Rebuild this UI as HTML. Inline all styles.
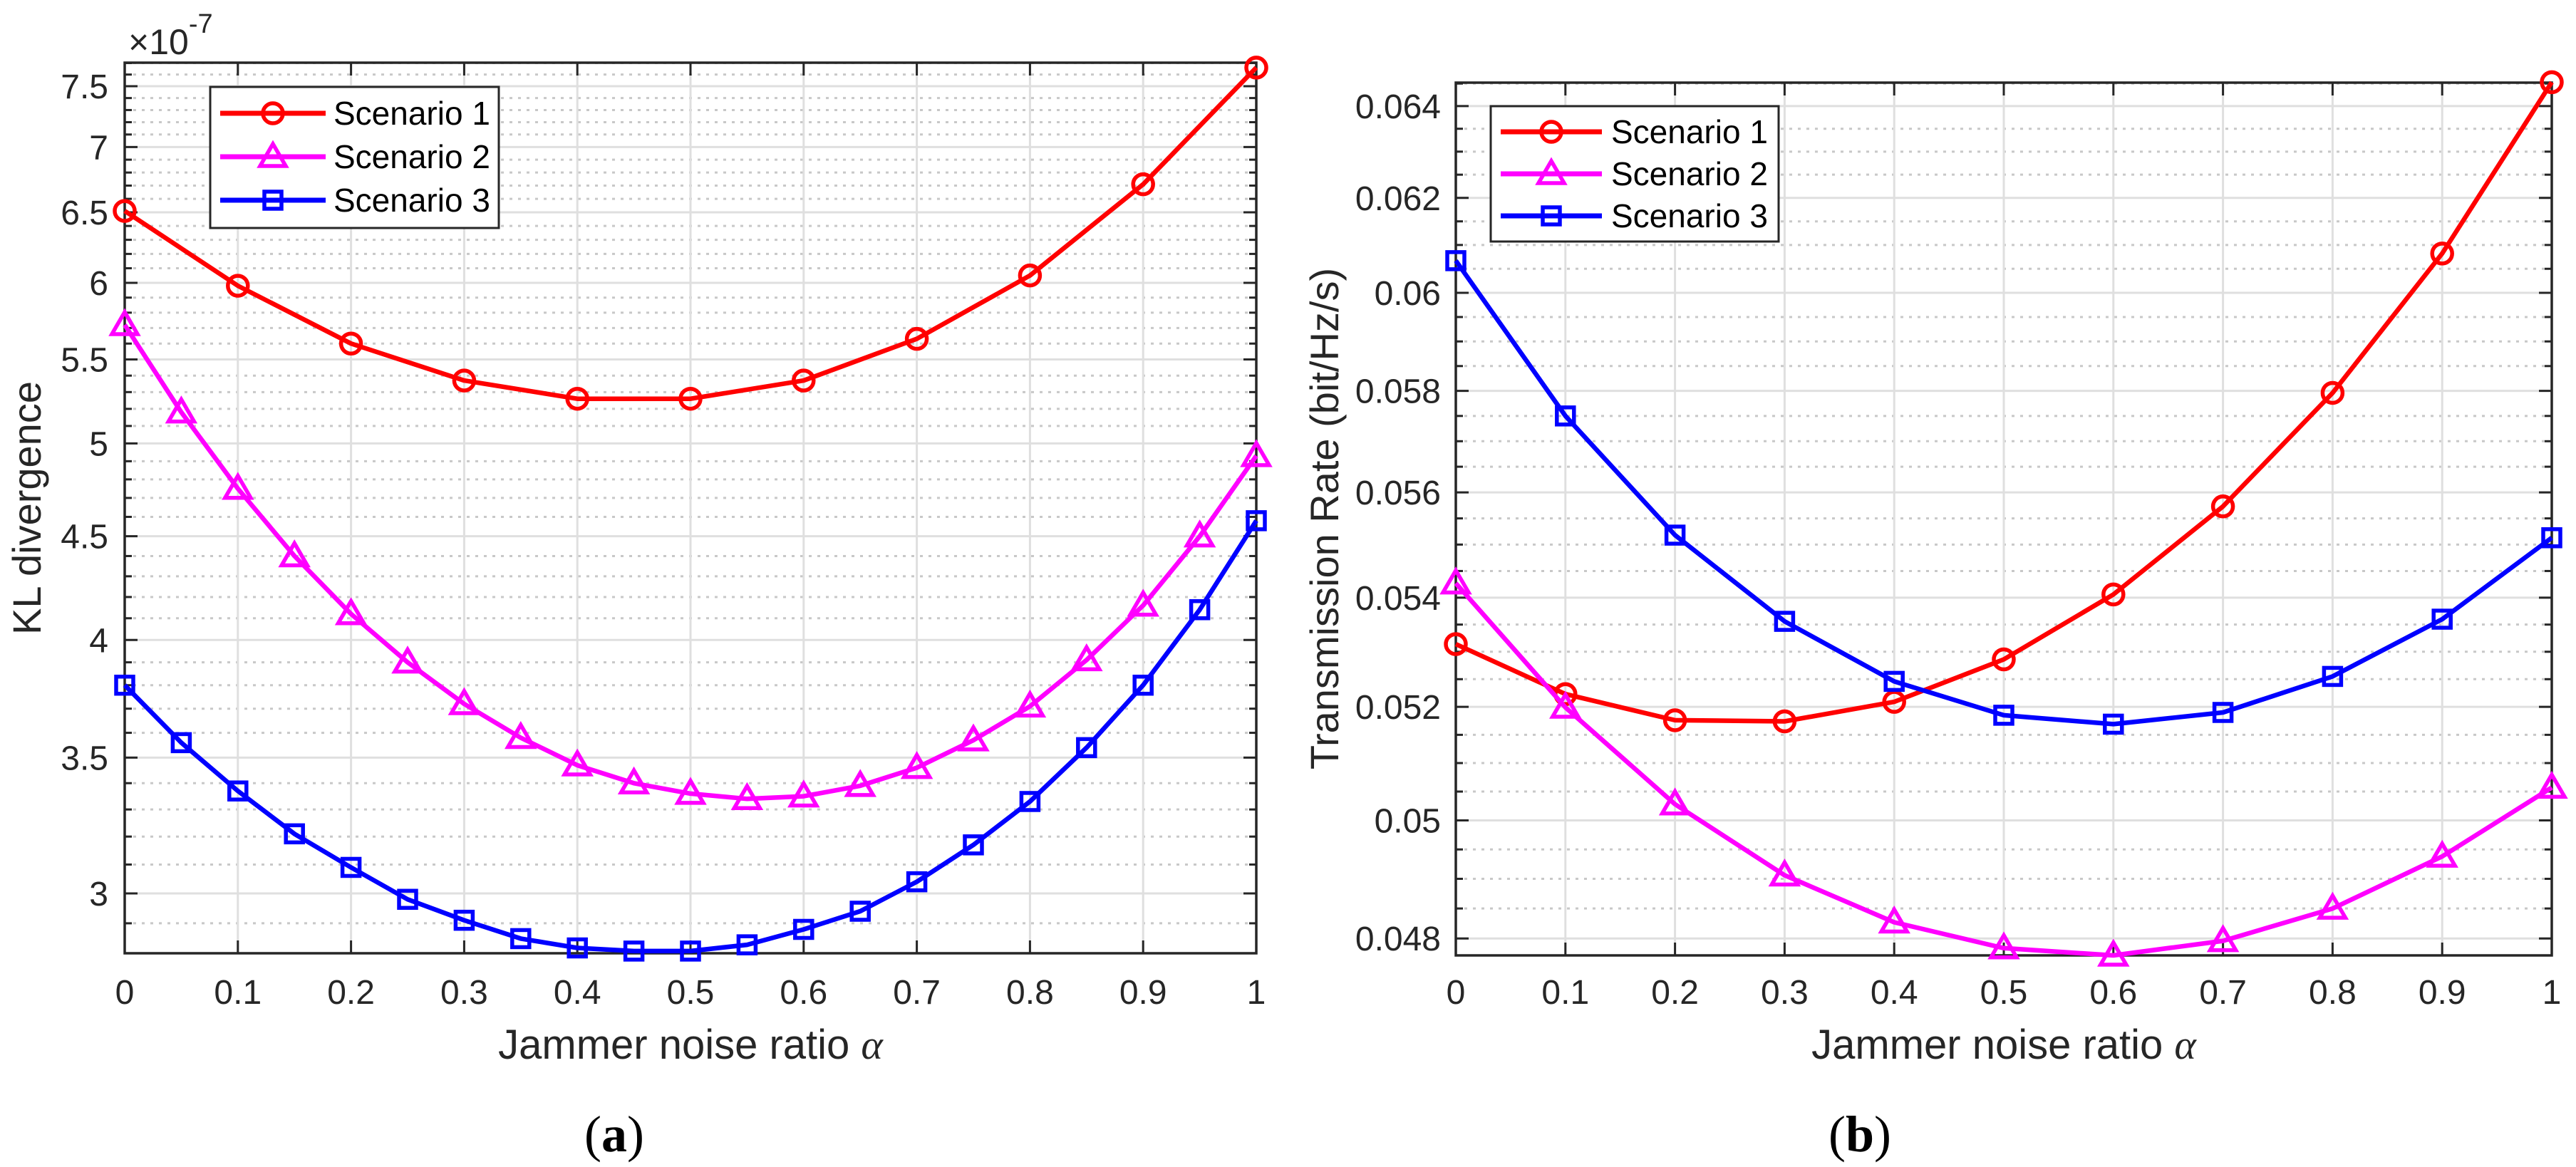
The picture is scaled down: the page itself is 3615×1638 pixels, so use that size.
<!DOCTYPE html>
<html><head><meta charset="utf-8">
<style>
html,body{margin:0;padding:0;background:#fff;}
svg{display:block;}
text{font-family:"Liberation Sans",sans-serif;fill:#262626;}
</style></head>
<body>
<svg id="fig" xmlns="http://www.w3.org/2000/svg" width="3615" height="1638" viewBox="0 0 3615 1638">
<rect width="3615" height="1638" fill="#fff"/>
<g id="chartA"></g>
<g id="chartB"></g>
</svg>
<script>
// ---- shared x data ----
const alphaFine = [0,0.05,0.1,0.15,0.2,0.25,0.3,0.35,0.4,0.45,0.5,0.55,0.6,0.65,0.7,0.75,0.8,0.85,0.9,0.95,1];
const alphaCoarse = [0,0.1,0.2,0.3,0.4,0.5,0.6,0.7,0.8,0.9,1];
const xTickVals = [0,0.1,0.2,0.3,0.4,0.5,0.6,0.7,0.8,0.9,1];
const xTickLabels = ["0","0.1","0.2","0.3","0.4","0.5","0.6","0.7","0.8","0.9","1"];

// ---- chart (a): KL divergence (x1e-7), log y ----
const klS1 = [6.51,5.98,5.60,5.37,5.26,5.26,5.37,5.63,6.05,6.71,7.66];
const klS2 = [5.72,5.18,4.75,4.40,4.12,3.90,3.72,3.58,3.47,3.40,3.36,3.34,3.35,3.39,3.46,3.57,3.71,3.91,4.16,4.50,4.93];
const klS3 = [3.80,3.56,3.37,3.21,3.09,2.98,2.91,2.85,2.82,2.81,2.81,2.83,2.88,2.94,3.04,3.17,3.33,3.54,3.80,4.14,4.58];
const klTickVals = [3,3.5,4,4.5,5,5.5,6,6.5,7,7.5];
const klTickLabels = ["3","3.5","4","4.5","5","5.5","6","6.5","7","7.5"];

// ---- chart (b): transmission rate, log y ----
const trS1 = [0.05314,0.05223,0.05176,0.05174,0.05209,0.05286,0.05406,0.05573,0.05796,0.06082,0.06453];
const trS2 = [0.05427,0.05199,0.05028,0.04906,0.04827,0.04784,0.04772,0.04796,0.04850,0.04938,0.05057];
const trS3 = [0.06067,0.05750,0.05518,0.05356,0.05246,0.05185,0.05169,0.05190,0.05255,0.05360,0.05513];
const trTickVals = [0.048,0.05,0.052,0.054,0.056,0.058,0.06,0.062,0.064];
const trTickLabels = ["0.048","0.05","0.052","0.054","0.056","0.058","0.06","0.062","0.064"];

const NS = "http://www.w3.org/2000/svg";
function mk(parent, tag, attrs){
  const e = document.createElementNS(NS, tag);
  for (const k in attrs) e.setAttribute(k, attrs[k]);
  parent.appendChild(e);
  return e;
}
const AX = "#262626";

function drawChart(g, cfg){
  const {L,R,T,B,ymin,ymax} = cfg;
  const xs = v => L + (v - 0) / (1 - 0) * (R - L);
  const ys = v => B - (Math.log(v) - Math.log(ymin)) / (Math.log(ymax) - Math.log(ymin)) * (B - T);

  cfg.minor.forEach(v => {
    const y = ys(v);
    const l = mk(g, 'line', {x1:L, x2:R, y1:y, y2:y, stroke:'#c8c8c8', 'stroke-width':3, 'stroke-dasharray':'4 8'});
    
    
  });
  xTickVals.forEach(v => {
    const x = xs(v);
    const l = mk(g, 'line', {x1:x, x2:x, y1:T, y2:B, stroke:'#dfdfdf', 'stroke-width':3});
    
    
  });
  cfg.yTicks.forEach(v => {
    const y = ys(v);
    const l = mk(g, 'line', {x1:L, x2:R, y1:y, y2:y, stroke:'#dfdfdf', 'stroke-width':3});
    
    
  });
  xTickVals.forEach((v,i) => {
    const x = xs(v);
    mk(g, 'line', {x1:x, x2:x, y1:B, y2:B-18, stroke:AX, 'stroke-width':3});
    mk(g, 'line', {x1:x, x2:x, y1:T, y2:T+18, stroke:AX, 'stroke-width':3});
    const t = mk(g, 'text', {x:x, y:1409, 'font-size':48, 'text-anchor':'middle'});
    t.textContent = xTickLabels[i];
    
    
  });
  cfg.yTicks.forEach((v,i) => {
    const y = ys(v);
    mk(g, 'line', {x1:L, x2:L+18, y1:y, y2:y, stroke:AX, 'stroke-width':3});
    mk(g, 'line', {x1:R, x2:R-18, y1:y, y2:y, stroke:AX, 'stroke-width':3});
    const t = mk(g, 'text', {x:cfg.labelRight, y:y+17, 'font-size':48, 'text-anchor':'end'});
    t.textContent = cfg.yLabels[i];
    
    
  });
  cfg.minor.forEach(v => {
    const y = ys(v);
    mk(g, 'line', {x1:L, x2:L+10, y1:y, y2:y, stroke:AX, 'stroke-width':3});
    mk(g, 'line', {x1:R, x2:R-10, y1:y, y2:y, stroke:AX, 'stroke-width':3});
  });
  const box = mk(g, 'rect', {x:L, y:T, width:R-L, height:B-T, fill:'none', stroke:AX, 'stroke-width':3.5});
  
  

  cfg.series.forEach(s => {
    const pts = s.y.map((v,i) => xs(s.x[i]).toFixed(1) + ',' + ys(v).toFixed(1)).join(' ');
    const pl = mk(g, 'polyline', {points:pts, fill:'none', stroke:s.color, 'stroke-width':6.5, 'stroke-linejoin':'round'});
    
    
    s.y.forEach((v,i) => {
      const m = marker(g, s.marker, xs(s.x[i]), ys(v), s.color);
      
      
    });
  });

  const lg = cfg.legend;
  const lgG = mk(g, 'g', {});
  
  
  mk(lgG, 'rect', {x:lg.x, y:lg.y, width:lg.w, height:lg.h, fill:'#fff', stroke:AX, 'stroke-width':3});
  cfg.series.forEach((s,i) => {
    const y = lg.rows[i];
    const eg = mk(lgG, 'g', {});
    
    
    mk(eg, 'line', {x1:lg.lx1, x2:lg.lx2, y1:y, y2:y, stroke:s.color, 'stroke-width':7});
    marker(eg, s.marker, (lg.lx1+lg.lx2)/2, y, s.color);
    const t = mk(eg, 'text', {x:lg.tx, y:y+16, 'font-size':46});
    t.style.fill = '#000';
    t.textContent = s.label;
  });
}

function marker(g, type, x, y, color){
  if (type === 'o') return mk(g, 'circle', {cx:x, cy:y, r:14, fill:'none', stroke:color, 'stroke-width':5.5});
  if (type === 's') return mk(g, 'rect', {x:x-12, y:y-12, width:24, height:24, fill:'none', stroke:color, 'stroke-width':5.5});
  return mk(g, 'polygon', {points:`${x},${y-18} ${x+18},${y+13} ${x-18},${y+13}`, fill:'none', stroke:color, 'stroke-width':5.5, 'stroke-linejoin':'miter'});
}

function range(a,b,s){ const r=[]; for(let v=a; v<=b+1e-12; v+=s) r.push(Math.round(v/s)*s); return r; }

const gA = document.getElementById('chartA');
const minorA = range(2.9,7.7,0.1).filter(v => Math.abs(v*2 - Math.round(v*2)) > 1e-6);
drawChart(gA, {
  L:175, R:1763, T:88, B:1338, ymin:2.803, ymax:7.703,
  yTicks:klTickVals, yLabels:klTickLabels, minor:minorA, labelRight:152,
  series:[
    {name:'scenario-1', label:'Scenario 1', x:alphaCoarse, y:klS1, color:'#ff0000', marker:'o'},
    {name:'scenario-2', label:'Scenario 2', x:alphaFine, y:klS2, color:'#ff00ff', marker:'^'},
    {name:'scenario-3', label:'Scenario 3', x:alphaFine, y:klS3, color:'#0000ff', marker:'s'}
  ],
  legend:{x:295, y:122, w:405, h:198, rows:[159,220,281], lx1:309, lx2:457, tx:468}
});
const gB = document.getElementById('chartB');
const minorB = range(0.0485,0.0645,0.0005).filter(v => Math.abs(v*500 - Math.round(v*500)) > 1e-6);
drawChart(gB, {
  L:2043, R:3581, T:116, B:1341, ymin:0.04772, ymax:0.06452,
  yTicks:trTickVals, yLabels:trTickLabels, minor:minorB, labelRight:2022,
  series:[
    {name:'scenario-1', label:'Scenario 1', x:alphaCoarse, y:trS1, color:'#ff0000', marker:'o'},
    {name:'scenario-2', label:'Scenario 2', x:alphaCoarse, y:trS2, color:'#ff00ff', marker:'^'},
    {name:'scenario-3', label:'Scenario 3', x:alphaCoarse, y:trS3, color:'#0000ff', marker:'s'}
  ],
  legend:{x:2092, y:149, w:404, h:190, rows:[185,244,303], lx1:2106, lx2:2248, tx:2261}
});

function label(parent, txt, attrs, name, style){
  const t = mk(parent, 'text', attrs);
  t.innerHTML = txt;
  if (style) t.setAttribute('style', style);
  
  
  return t;
}
label(gA, '×10<tspan dy="-30" font-size="38">-7</tspan>', {x:180, y:76, 'font-size':50}, 'y-axis-exponent');
label(gA, 'KL divergence', {x:57, y:713, 'font-size':56, 'text-anchor':'middle', transform:'rotate(-90 57 713)'}, 'y-axis-title');
label(gA, 'Jammer noise ratio <tspan style="font-family:\'Liberation Serif\',serif;font-style:italic">α</tspan>', {x:969, y:1486, 'font-size':58, 'text-anchor':'middle'}, 'x-axis-title');
label(gA, '(<tspan font-weight="bold">a</tspan>)', {x:862, y:1616, 'font-size':72, 'text-anchor':'middle'}, 'caption-a', "font-family:'Liberation Serif',serif;fill:#000");
label(gB, 'Transmission Rate (bit/Hz/s)', {x:1878, y:728, 'font-size':56, 'text-anchor':'middle', transform:'rotate(-90 1878 728)'}, 'y-axis-title');
label(gB, 'Jammer noise ratio <tspan style="font-family:\'Liberation Serif\',serif;font-style:italic">α</tspan>', {x:2812, y:1486, 'font-size':58, 'text-anchor':'middle'}, 'x-axis-title');
label(gB, '(<tspan font-weight="bold">b</tspan>)', {x:2610, y:1616, 'font-size':72, 'text-anchor':'middle'}, 'caption-b', "font-family:'Liberation Serif',serif;fill:#000");
</script>
</body></html>
